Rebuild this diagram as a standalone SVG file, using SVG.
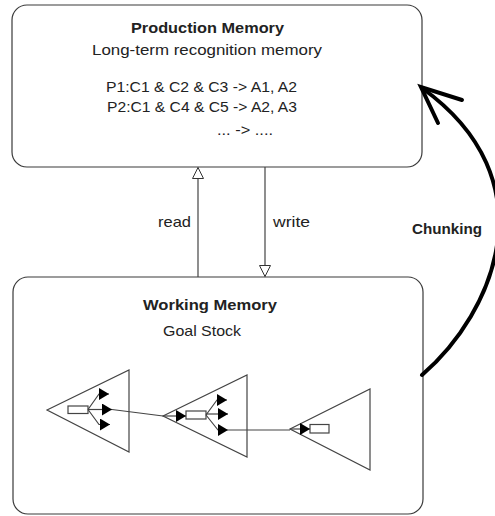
<svg xmlns="http://www.w3.org/2000/svg" width="495" height="516" viewBox="0 0 495 516">
<style>
.box{fill:#fff;stroke:#3a3a3a;stroke-width:1.2}
.t{font-family:"Liberation Sans",Arial,sans-serif;font-size:15px;fill:#222}
.b{font-weight:bold}
.tri{fill:none;stroke:#444;stroke-width:1.2}
.ln{fill:none;stroke:#444;stroke-width:1.2}
.rect{fill:#fff;stroke:#444;stroke-width:1.2}
.chunk{fill:none;stroke:#000;stroke-width:4;stroke-linecap:round}
</style>
<defs>
<marker id="hollow" viewBox="0 0 12 12" refX="11.5" refY="6" markerWidth="12" markerHeight="12" markerUnits="userSpaceOnUse" orient="auto">
<path d="M0.5,0.5 L11.5,6 L0.5,11.5 Z" fill="#fff" stroke="#333" stroke-width="1"/>
</marker>
<marker id="solid" viewBox="0 0 10 12" refX="10" refY="6" markerWidth="10" markerHeight="12" markerUnits="userSpaceOnUse" orient="auto">
<path d="M0,0 L10,6 L0,12 Z" fill="#000"/>
</marker>
</defs>
<g id="production-memory">
<rect class="box" x="12" y="5" width="410" height="162" rx="15"/>
<text class="t b" x="131" y="33" textLength="153" lengthAdjust="spacingAndGlyphs">Production Memory</text>
<text class="t" x="92" y="55" textLength="230" lengthAdjust="spacingAndGlyphs">Long-term recognition memory</text>
<text class="t" x="106" y="92" textLength="191" lengthAdjust="spacingAndGlyphs">P1:C1 &amp; C2 &amp; C3 -&gt; A1, A2</text>
<text class="t" x="107" y="112" textLength="190" lengthAdjust="spacingAndGlyphs">P2:C1 &amp; C4 &amp; C5 -&gt; A2, A3</text>
<text class="t" x="217" y="135" textLength="56" lengthAdjust="spacingAndGlyphs">... -&gt; ....</text>
</g>
<g id="working-memory">
<rect class="box" x="13" y="277" width="410" height="237" rx="15"/>
<text class="t b" x="143" y="310" textLength="134" lengthAdjust="spacingAndGlyphs">Working Memory</text>
<text class="t" x="163" y="336" textLength="78" lengthAdjust="spacingAndGlyphs">Goal Stock</text>
</g>
<g id="goal-1">
<polygon class="tri" points="47,410 129,370 129,452"/>
<rect class="rect" x="68" y="406" width="20" height="7.5"/>
<polyline class="ln" points="88,409.5 99,394 109,394" marker-end="url(#solid)"/>
<line class="ln" x1="88" y1="409.5" x2="112" y2="409.5" marker-end="url(#solid)"/>
<polyline class="ln" points="88,409.5 99,424.5 110,424.5" marker-end="url(#solid)"/>
</g>
<g id="goal-2">
<polygon class="tri" points="163,416 247,375 247,457"/>
<rect class="rect" x="186" y="411" width="20" height="8"/>
<line class="ln" x1="163" y1="416" x2="186" y2="416" marker-end="url(#solid)"/>
<polyline class="ln" points="206,415 217,400 227,400" marker-end="url(#solid)"/>
<line class="ln" x1="206" y1="414" x2="228" y2="414" marker-end="url(#solid)"/>
<polyline class="ln" points="206,415 218,430 228,430" marker-end="url(#solid)"/>
</g>
<g id="goal-3">
<polygon class="tri" points="290,429 370,389 370,470"/>
<rect class="rect" x="310" y="424.5" width="19" height="8.5"/>
<line class="ln" x1="290" y1="429" x2="310" y2="429" marker-end="url(#solid)"/>
</g>
<g id="connectors">
<line class="ln" x1="198" y1="277" x2="198" y2="167.5" marker-end="url(#hollow)"/>
<text class="t" x="158" y="227" textLength="33" lengthAdjust="spacingAndGlyphs">read</text>
<line class="ln" x1="265" y1="167" x2="265" y2="276.5" marker-end="url(#hollow)"/>
<text class="t" x="273" y="227" textLength="37" lengthAdjust="spacingAndGlyphs">write</text>
<line class="ln" x1="112" y1="409.5" x2="163" y2="416"/>
<line class="ln" x1="228" y1="430" x2="290" y2="430"/>
<path class="chunk" d="M422,375 C495,312 550,180 422,88"/>
<path class="chunk" d="M462,100 L421,87 L438,123"/>
<text class="t b" x="412" y="234" textLength="70" lengthAdjust="spacingAndGlyphs">Chunking</text>
</g>
</svg>
